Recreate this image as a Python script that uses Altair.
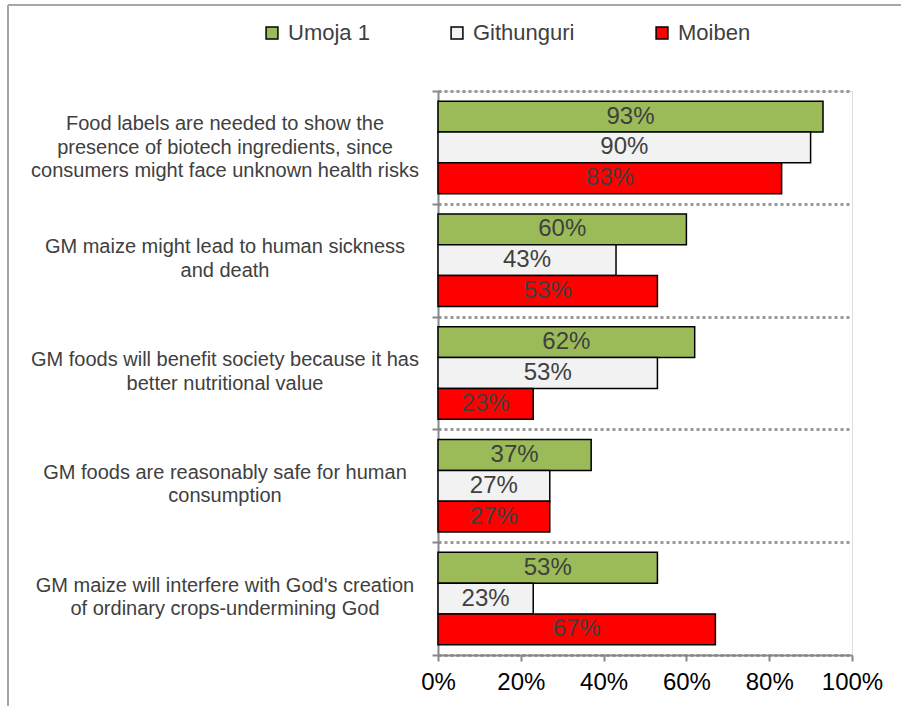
import altair as alt
import pandas as pd

statements = [
    "Food labels are needed to show the|presence of biotech ingredients, since|consumers might face unknown health risks",
    "GM maize might lead to human sickness|and death",
    "GM foods  will benefit society because it has|better nutritional value",
    "GM  foods are reasonably safe for human|consumption",
    "GM maize will interfere with God's creation|of ordinary crops-undermining God",
]
series = ["Umoja 1", "Githunguri", "Moiben"]
umoja = [93, 60, 62, 37, 53]
githunguri = [90, 43, 53, 27, 23]
moiben = [83, 53, 23, 27, 67]
colors = ["#9BBB59", "#F2F2F2", "#FF0000"]
x_ticks = [0, 20, 40, 60, 80, 100]

rows = []
for s, vals in zip(series, [umoja, githunguri, moiben]):
    for st, v in zip(statements, vals):
        rows.append({"statement": st, "series": s, "value": v})
df = pd.DataFrame(rows)
cat_df = pd.DataFrame({"statement": statements,
                       "nlines": [st.count("|") + 1 for st in statements]})

FONT = "Liberation Sans"

y_enc = alt.Y(
    "statement:N",
    sort=statements,
    scale=alt.Scale(paddingInner=0, paddingOuter=0),
    axis=alt.Axis(
        title=None,
        labels=False,
        tickBand="extent",
        tickSize=6,
        tickColor="#888888",
        tickWidth=2,
        domainColor="#888888",
        domainWidth=2,
        grid=True,
        gridColor="#999999",
        gridDash=[3, 3],
        gridWidth=3,
    ),
)
yoff = alt.YOffset(
    "series:N",
    sort=series,
    scale=alt.Scale(domain=series, paddingInner=0, paddingOuter=0.33),
)
x_enc = alt.X(
    "value:Q",
    scale=alt.Scale(domain=[0, 100], nice=False),
    axis=alt.Axis(
        title=None,
        values=x_ticks,
        labelExpr="datum.value + '%'",
        labelFontSize=24,
        labelColor="#000000",
        labelFont=FONT,
        labelPadding=9,
        labelFlush=False,
        labelOverlap=False,
        tickSize=6,
        tickColor="#888888",
        tickWidth=2,
        domainColor="#888888",
        domainWidth=2,
        grid=False,
    ),
)

bars = alt.Chart(df).mark_bar(stroke="#000000", strokeWidth=1.5).encode(
    x=x_enc,
    y=y_enc,
    yOffset=yoff,
    color=alt.Color(
        "series:N",
        sort=series,
        scale=alt.Scale(domain=series, range=colors),
        legend=alt.Legend(
            title=None,
            orient="none",
            legendX=-177,
            legendY=-69,
            direction="horizontal",
            symbolType="square",
            symbolSize=140,
            symbolStrokeColor="#000000",
            symbolStrokeWidth=1.5,
            symbolOpacity=1,
            labelFontSize=22,
            labelColor="#404040",
            labelFont=FONT,
            labelOffset=5,
            columnPadding=76,
        ),
    ),
)

labels = alt.Chart(df).transform_calculate(
    mid="datum.value / 2", txt="datum.value + '%'"
).mark_text(fontSize=24, color="#404040", font=FONT, baseline="middle", align="center").encode(
    x=alt.X("mid:Q"),
    y=alt.Y("statement:N", sort=statements),
    yOffset=alt.YOffset("series:N", sort=series),
    text="txt:N",
)


def cat_text(n, dy):
    return alt.Chart(cat_df).transform_filter(
        alt.datum.nlines == n
    ).mark_text(
        fontSize=20, color="#404040", font=FONT, align="center", baseline="top",
        lineBreak="|", lineHeight=23.5, dy=dy,
    ).encode(
        x=alt.value(-213),
        y=alt.Y("statement:N", sort=statements),
        text="statement:N",
    )


cat3 = cat_text(3, -33)
cat2 = cat_text(2, -23)

frame_top = alt.Chart(df).mark_rule(color="#A6A6A6", strokeWidth=2).encode(
    x=alt.value(-430), x2=alt.value(470), y=alt.value(-86)
)
frame_left = alt.Chart(df).mark_rule(color="#A6A6A6", strokeWidth=2).encode(
    x=alt.value(-430), y=alt.value(-86), y2=alt.value(620)
)

chart = (
    alt.layer(bars, labels, cat3, cat2, frame_top, frame_left)
    .properties(
        width=414,
        height=564,
        autosize=alt.AutoSizeParams(type="none"),
        padding={"left": 438, "top": 91, "right": 49, "bottom": 51},
    )
    .configure_view(stroke=None)
    .configure(background="white")
)

chart.save("out.html", embed_options={"renderer": "svg", "actions": False})
